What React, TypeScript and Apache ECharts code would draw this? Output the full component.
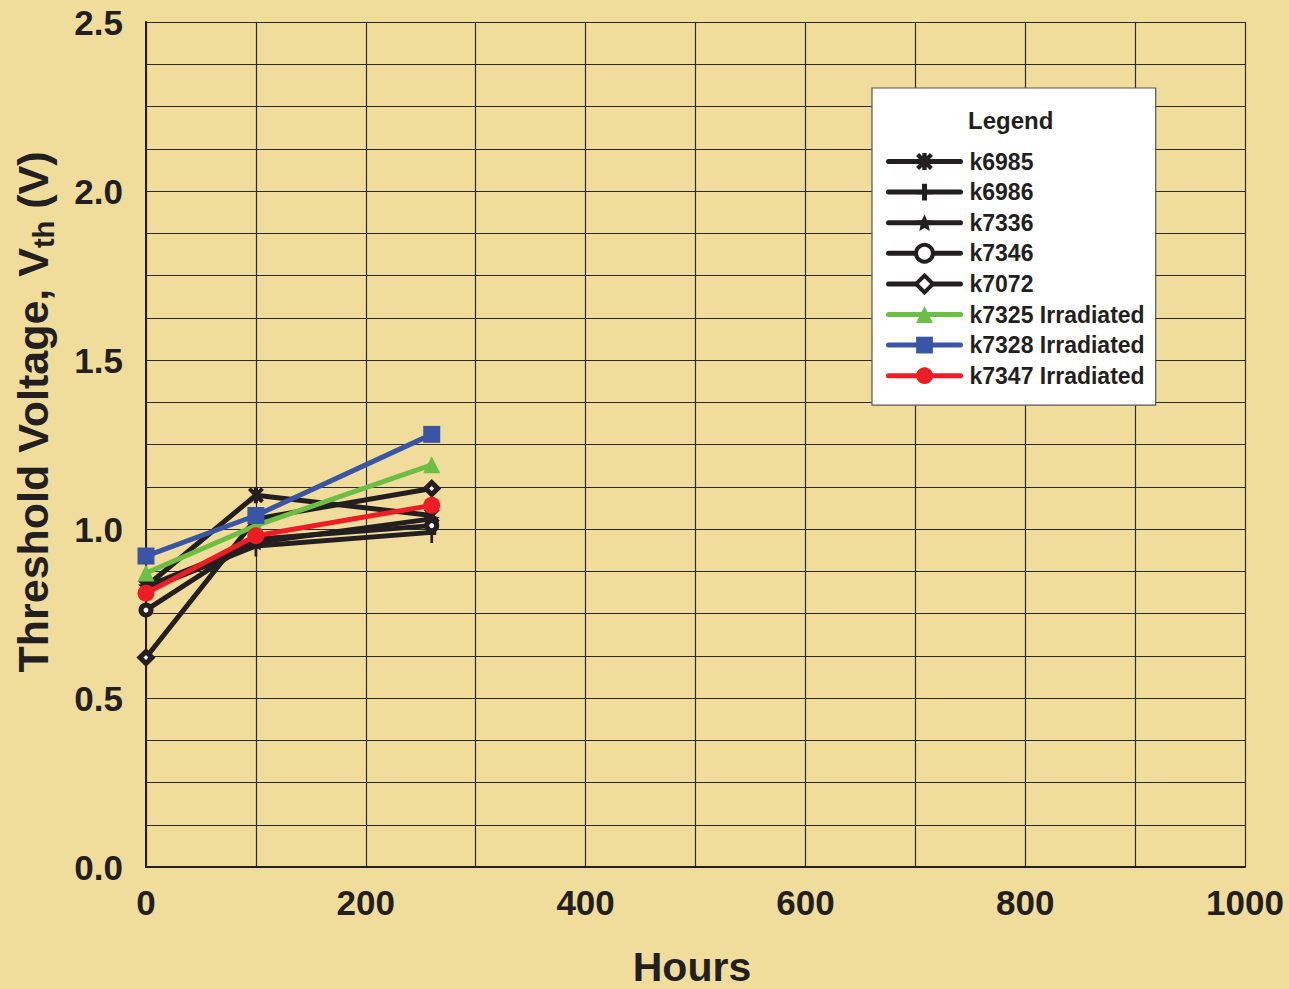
import React, { useEffect, useRef } from "react";
import * as echarts from "echarts";

const hours = [0, 100, 260];
const k6985 = [0.83, 1.1, 1.04];
const k6986 = [0.82, 0.95, 0.99];
const k7336 = [0.83, 0.96, 1.03];
const k7346 = [0.76, 0.97, 1.01];
const k7072 = [0.62, 1.03, 1.12];
const k7325 = [0.87, 1.01, 1.19];
const k7328 = [0.92, 1.04, 1.28];
const k7347 = [0.81, 0.98, 1.07];

const seriesNames = [
  "k6985",
  "k6986",
  "k7336",
  "k7346",
  "k7072",
  "k7325 Irradiated",
  "k7328 Irradiated",
  "k7347 Irradiated",
];
const seriesValues = [k6985, k6986, k7336, k7346, k7072, k7325, k7328, k7347];

const BLACK = "#231F20";
const GREEN = "#6CBE45";
const BLUE = "#3A55A5";
const RED = "#EE1C25";
const FONT = "'Liberation Sans', Arial, Helvetica, sans-serif";

const ASTERISK =
  "path://M7.4 0 L12.6 0 L12.6 20 L7.4 20 Z M0 3.6 L3.6 0 L20 16.4 L16.4 20 Z M16.4 0 L20 3.6 L3.6 20 L0 16.4 Z";
const PLUS =
  "path://M7 0 L13 0 L13 7.5 L20 7.5 L20 12.5 L13 12.5 L13 20 L7 20 L7 12.5 L0 12.5 L0 7.5 L7 7.5 Z";
const STAR =
  "path://M10 0 L12.9 6.6 L20 7.3 L14.7 12.1 L16.2 19.1 L10 15.5 L3.8 19.1 L5.3 12.1 L0 7.3 L7.1 6.6 Z";

const styles = [
  { color: BLACK, fill: BLACK, symbol: ASTERISK, size: 16, bw: 0 },
  { color: BLACK, fill: BLACK, symbol: PLUS, size: [9, 21], bw: 0 },
  { color: BLACK, fill: BLACK, symbol: STAR, size: 16, bw: 0 },
  { color: BLACK, fill: "#FFFFFF", symbol: "circle", size: 10, bw: 5 },
  { color: BLACK, fill: "#FFFFFF", symbol: "diamond", size: 12, bw: 5 },
  { color: GREEN, fill: GREEN, symbol: "triangle", size: 17, bw: 0 },
  { color: BLUE, fill: BLUE, symbol: "rect", size: 17, bw: 0 },
  { color: RED, fill: RED, symbol: "circle", size: 17, bw: 0 },
];

export default function App() {
  const ref = useRef<HTMLDivElement>(null);
  useEffect(() => {
    if (!ref.current) return;
    const chart = echarts.init(ref.current, null, { renderer: "svg" });
    const series = seriesNames.map((name, i) => ({
      name,
      type: "line",
      data: hours.map((h, j) => [h, seriesValues[i][j]]),
      symbol: styles[i].symbol,
      symbolSize: styles[i].size,
      showAllSymbol: true,
      lineStyle: { color: styles[i].color, width: 5, join: "round", cap: "round" },
      itemStyle: {
        color: styles[i].fill,
        borderColor: styles[i].color,
        borderWidth: styles[i].bw,
      },
      emphasis: { disabled: true },
      z: 3 + i,
    }));
    const legendData = seriesNames.map((name, i) =>
      styles[i].bw > 0
        ? {
            name,
            itemStyle: {
              color: "#FFFFFF",
              borderColor: BLACK,
              borderWidth: 4,
            },
          }
        : { name }
    );
    chart.setOption({
      animation: false,
      backgroundColor: "#F1DD9B",
      grid: { left: 146, top: 22, width: 1099, height: 845, show: false },
      xAxis: {
        type: "value",
        min: 0,
        max: 1000,
        interval: 100,
        axisLine: { show: true, lineStyle: { color: BLACK, width: 2 } },
        axisTick: { show: false },
        splitLine: { show: true, lineStyle: { color: "#2b2b2b", width: 1.2 } },
        axisLabel: {
          margin: 18,
          fontSize: 35,
          fontWeight: "bold",
          fontFamily: FONT,
          color: BLACK,
          formatter: (v: number) => (v % 200 === 0 ? String(v) : ""),
        },
      },
      yAxis: {
        type: "value",
        min: 0,
        max: 2.5,
        interval: 0.125,
        axisLine: { show: true, lineStyle: { color: BLACK, width: 2 } },
        axisTick: { show: false },
        splitLine: { show: true, lineStyle: { color: "#2b2b2b", width: 1.2 } },
        axisLabel: {
          margin: 23,
          fontSize: 35,
          fontWeight: "bold",
          fontFamily: FONT,
          color: BLACK,
          formatter: (v: number) =>
            Math.abs(v * 2 - Math.round(v * 2)) < 1e-6 ? v.toFixed(1) : "",
        },
      },
      legend: {
        show: true,
        orient: "vertical",
        left: 872,
        top: 88,
        itemWidth: 72,
        itemHeight: 21,
        itemGap: 7.6,
        padding: [62, 11, 18, 14],
        backgroundColor: "#FFFFFF",
        borderColor: "#555555",
        borderWidth: 1.2,
        borderRadius: 0,
        lineStyle: { width: 5, cap: "round" },
        textStyle: {
          fontSize: 23,
          fontWeight: "bold",
          fontFamily: FONT,
          color: BLACK,
          padding: [0, 0, 0, 4],
        },
        data: legendData,
        selectedMode: false,
      },
      graphic: [
        {
          type: "text",
          left: 968,
          top: 108,
          z: 100,
          style: {
            text: "Legend",
            fontSize: 24,
            fontWeight: "bold",
            fontFamily: FONT,
            fill: BLACK,
          },
        },
        {
          type: "text",
          x: 33,
          y: 412,
          rotation: Math.PI / 2,
          z: 100,
          style: {
            text: "{a|Threshold Voltage, V}{b|th}{a| (V)}",
            align: "center",
            verticalAlign: "middle",
            fill: BLACK,
            rich: {
              a: {
                fontSize: 43,
                fontWeight: "bold",
                fontFamily: FONT,
                fill: BLACK,
                lineHeight: 50,
                verticalAlign: "middle",
              },
              b: {
                fontSize: 29,
                fontWeight: "bold",
                fontFamily: FONT,
                fill: BLACK,
                lineHeight: 30,
                verticalAlign: "bottom",
              },
            },
          },
        },
        {
          type: "text",
          x: 692,
          y: 967,
          z: 100,
          style: {
            text: "Hours",
            align: "center",
            verticalAlign: "middle",
            fontSize: 41,
            fontWeight: "bold",
            fontFamily: FONT,
            fill: BLACK,
          },
        },
      ],
      series,
    });
    return () => chart.dispose();
  }, []);
  return (
    <div
      ref={ref}
      style={{ position: "fixed", left: 0, top: 0, width: 1289, height: 989 }}
    />
  );
}
